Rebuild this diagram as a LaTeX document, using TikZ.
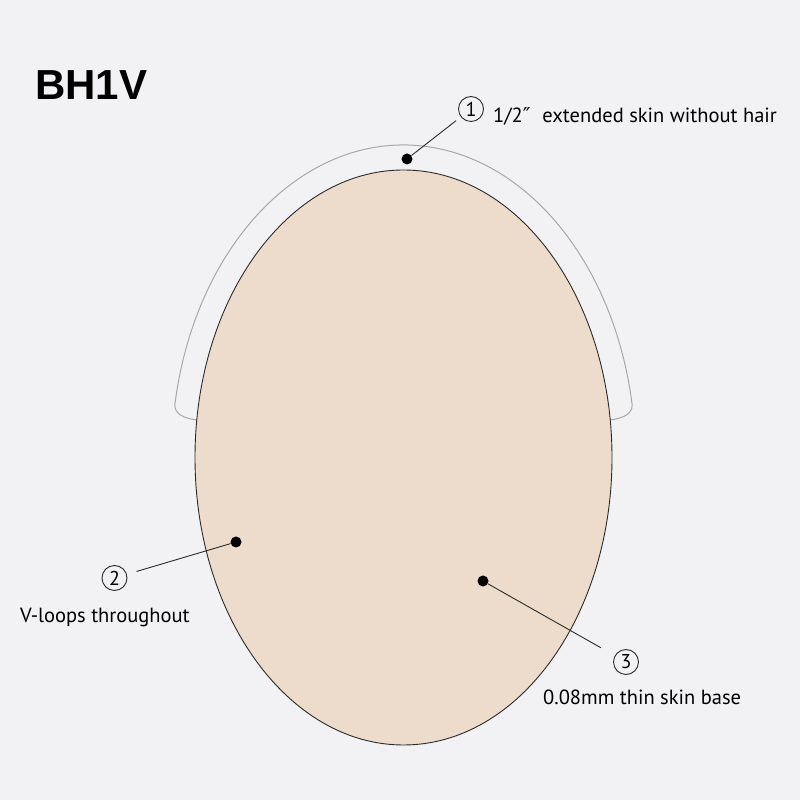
\documentclass[tikz,border=0pt]{standalone}
\usepackage{fontspec}
\setmainfont{PT Sans}
\newfontfamily\titlefont{Liberation Sans}
\newfontfamily\symfont{DejaVu Sans}
\definecolor{bg}{HTML}{F2F2F4}
\definecolor{skin}{HTML}{EDDCCB}
\definecolor{rim}{HTML}{A8A8A8}
\definecolor{ink}{HTML}{2B2B2B}

\tikzstyle{spot} = [circle,fill=black,inner sep=0pt,minimum size=11pt]
\tikzstyle{num} = [circle,draw=ink,line width=0.9pt,inner sep=0pt,minimum size=25pt,font=\fontsize{20}{20}\selectfont]
\tikzstyle{note} = [anchor=base west,inner sep=0pt,font=\fontsize{20.5}{24}\selectfont]
\tikzstyle{leader} = [draw=ink,line width=0.9pt]

\begin{document}
\begin{tikzpicture}[x=1pt,y=1pt]
	\fill[bg] (0,0) rectangle (800,800);
	\node[anchor=base west,inner sep=0pt,font=\titlefont\bfseries\fontsize{42}{42}\selectfont] (title) at (35,700) {BH1V};

	% outer rim
	\draw[rim,line width=1pt] (196.8,380) .. controls (183,382) and (175,386) .. (174.8,395)
		arc[start angle=170.33,end angle=9.67,x radius=232,y radius=312.5]
		.. controls (632,386) and (624,382) .. (610.2,380);
	% base
	\draw[ink,line width=0.9pt,fill=skin] (403.5,342.5) ellipse[x radius=208.5,y radius=287.5];

	\node[spot] (p1) at (407,641) {};
	\node[spot] (p2) at (236,258) {};
	\node[spot] (p3) at (483,219) {};

	\node[num] (n1) at (471,691) {1};
	\node[num] (n2) at (114.5,222) {2};
	\node[num] (n3) at (626,138) {3};

	\node[note] (t1) at (493,677) {1/2{\symfont ″}\hspace{12pt}extended skin without hair};
	\node[note] (t2) at (20,177) {V-loops throughout};
	\node[note] (t3) at (543,95) {0.08mm thin skin base};

	\draw[leader,shorten >=6pt] (p1) -- (n1);
	\draw[leader,shorten >=10pt] (p2) -- (n2);
	\draw[leader,shorten >=16pt] (p3) -- (n3);
\end{tikzpicture}
\end{document}
